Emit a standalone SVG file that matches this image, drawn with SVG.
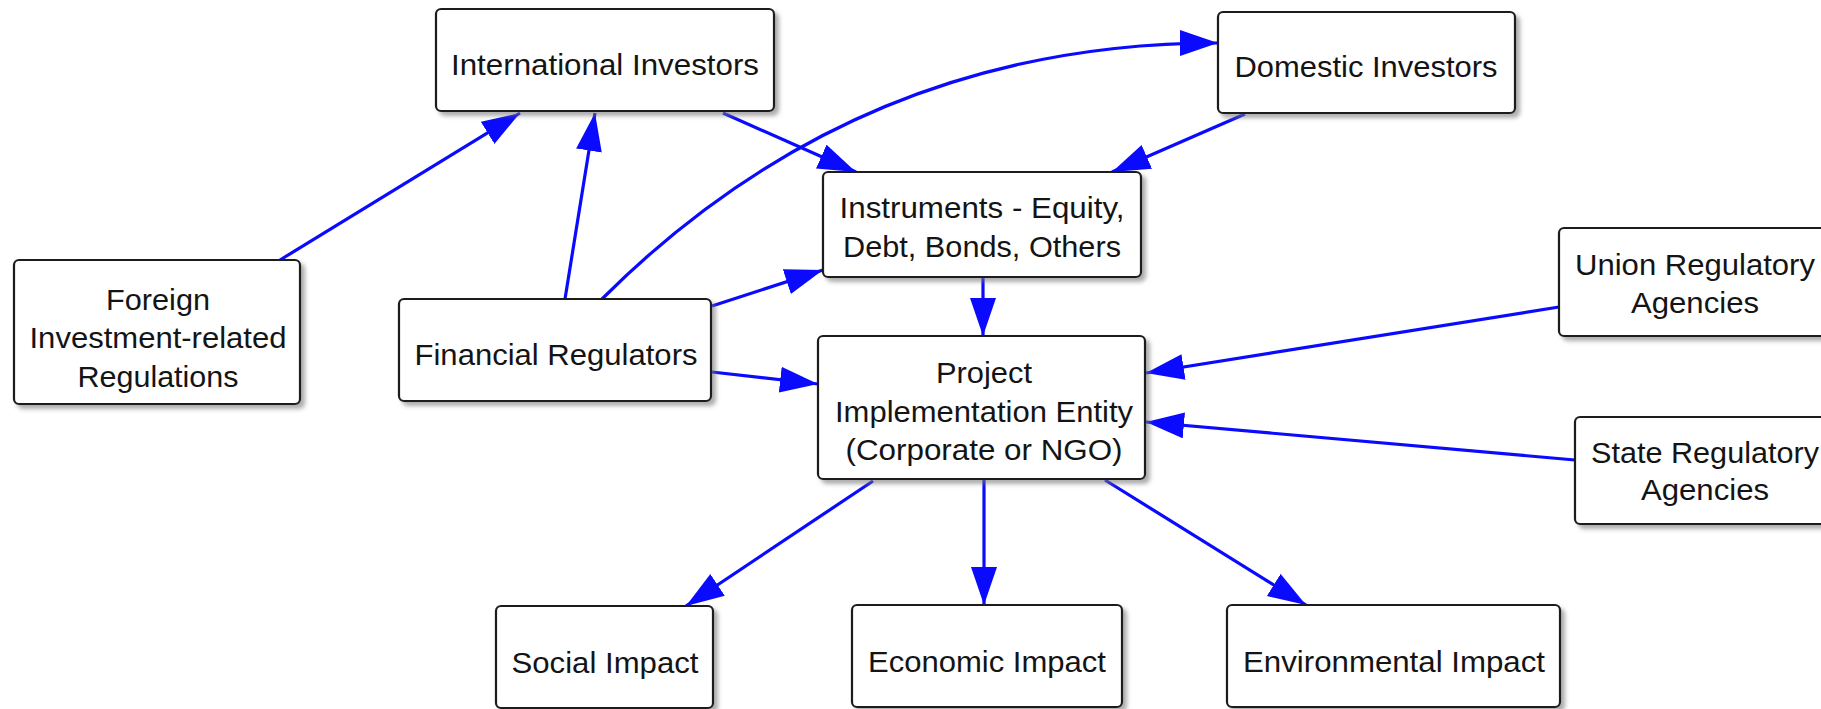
<svg xmlns="http://www.w3.org/2000/svg" width="1821" height="709" viewBox="0 0 1821 709">
  <defs>
    <filter id="shadow" x="-10%" y="-10%" width="130%" height="140%">
      <feDropShadow dx="4" dy="4" stdDeviation="2" flood-color="#777" flood-opacity="0.6"/>
    </filter>
    <marker id="arrow" markerUnits="userSpaceOnUse" markerWidth="40" markerHeight="28" refX="38" refY="13" orient="auto">
      <path d="M0,0 L38,13 L0,26 z" fill="#0a0aff"/>
    </marker>
    <style>
      .box { fill: #ffffff; stroke: #1e1e1e; stroke-width: 2.2; filter: url(#shadow); }
      .lbl { font-family: "Liberation Sans", Arial, sans-serif; font-size: 29px; fill: #141414; text-anchor: middle; }
      .edge { fill: none; stroke: #0a0aff; stroke-width: 3.2; marker-end: url(#arrow); }
    </style>
  </defs>
  <rect width="1821" height="709" fill="#ffffff"/>

  <!-- connectors -->
  <g id="connectors">
    <path class="edge" d="M280,260 L520,113"/>
    <path class="edge" d="M565,299 L595,113"/>
    <path class="edge" d="M602,299 Q858,43 1218,43"/>
    <path class="edge" d="M723,113 L856,172"/>
    <path class="edge" d="M1245,114 L1112,172"/>
    <path class="edge" d="M712,306 L823,270"/>
    <path class="edge" d="M712,372 L818,384"/>
    <path class="edge" d="M983,278 L983,336"/>
    <path class="edge" d="M1559,307 L1146,373"/>
    <path class="edge" d="M1575,460 L1146,422"/>
    <path class="edge" d="M873,481 L686,606"/>
    <path class="edge" d="M984,480 L984,605"/>
    <path class="edge" d="M1105,480 L1306,605"/>
  </g>

  <!-- nodes -->
  <g id="international-investors">
    <rect class="box" x="436" y="9" width="338" height="102" rx="5"/>
    <text class="lbl" x="605" y="75" textLength="308" lengthAdjust="spacingAndGlyphs">International Investors</text>
  </g>
  <g id="domestic-investors">
    <rect class="box" x="1218" y="12" width="297" height="101" rx="5"/>
    <text class="lbl" x="1366" y="77" textLength="263" lengthAdjust="spacingAndGlyphs">Domestic Investors</text>
  </g>
  <g id="instruments">
    <rect class="box" x="823" y="172" width="318" height="105" rx="5"/>
    <text class="lbl" x="982" y="218" textLength="285" lengthAdjust="spacingAndGlyphs">Instruments - Equity,</text>
    <text class="lbl" x="982" y="257" textLength="278" lengthAdjust="spacingAndGlyphs">Debt, Bonds, Others</text>
  </g>
  <g id="foreign-regulations">
    <rect class="box" x="14" y="260" width="286" height="144" rx="5"/>
    <text class="lbl" x="158" y="310" textLength="104" lengthAdjust="spacingAndGlyphs">Foreign</text>
    <text class="lbl" x="158" y="348" textLength="257" lengthAdjust="spacingAndGlyphs">Investment-related</text>
    <text class="lbl" x="158" y="387" textLength="161" lengthAdjust="spacingAndGlyphs">Regulations</text>
  </g>
  <g id="financial-regulators">
    <rect class="box" x="399" y="299" width="312" height="102" rx="5"/>
    <text class="lbl" x="556" y="365" textLength="283" lengthAdjust="spacingAndGlyphs">Financial Regulators</text>
  </g>
  <g id="project-entity">
    <rect class="box" x="818" y="336" width="327" height="143" rx="5"/>
    <text class="lbl" x="984" y="383" textLength="96" lengthAdjust="spacingAndGlyphs">Project</text>
    <text class="lbl" x="984" y="422" textLength="298" lengthAdjust="spacingAndGlyphs">Implementation Entity</text>
    <text class="lbl" x="984" y="460" textLength="277" lengthAdjust="spacingAndGlyphs">(Corporate or NGO)</text>
  </g>
  <g id="union-agencies">
    <rect class="box" x="1559" y="228" width="272" height="108" rx="5"/>
    <text class="lbl" x="1695" y="275" textLength="240" lengthAdjust="spacingAndGlyphs">Union Regulatory</text>
    <text class="lbl" x="1695" y="313" textLength="128" lengthAdjust="spacingAndGlyphs">Agencies</text>
  </g>
  <g id="state-agencies">
    <rect class="box" x="1575" y="417" width="262" height="107" rx="5"/>
    <text class="lbl" x="1705" y="463" textLength="228" lengthAdjust="spacingAndGlyphs">State Regulatory</text>
    <text class="lbl" x="1705" y="500" textLength="128" lengthAdjust="spacingAndGlyphs">Agencies</text>
  </g>
  <g id="social-impact">
    <rect class="box" x="496" y="606" width="217" height="102" rx="5"/>
    <text class="lbl" x="605" y="673" textLength="187" lengthAdjust="spacingAndGlyphs">Social Impact</text>
  </g>
  <g id="economic-impact">
    <rect class="box" x="852" y="605" width="270" height="102" rx="5"/>
    <text class="lbl" x="987" y="672" textLength="238" lengthAdjust="spacingAndGlyphs">Economic Impact</text>
  </g>
  <g id="environmental-impact">
    <rect class="box" x="1227" y="605" width="333" height="102" rx="5"/>
    <text class="lbl" x="1394" y="672" textLength="302" lengthAdjust="spacingAndGlyphs">Environmental Impact</text>
  </g>
</svg>
